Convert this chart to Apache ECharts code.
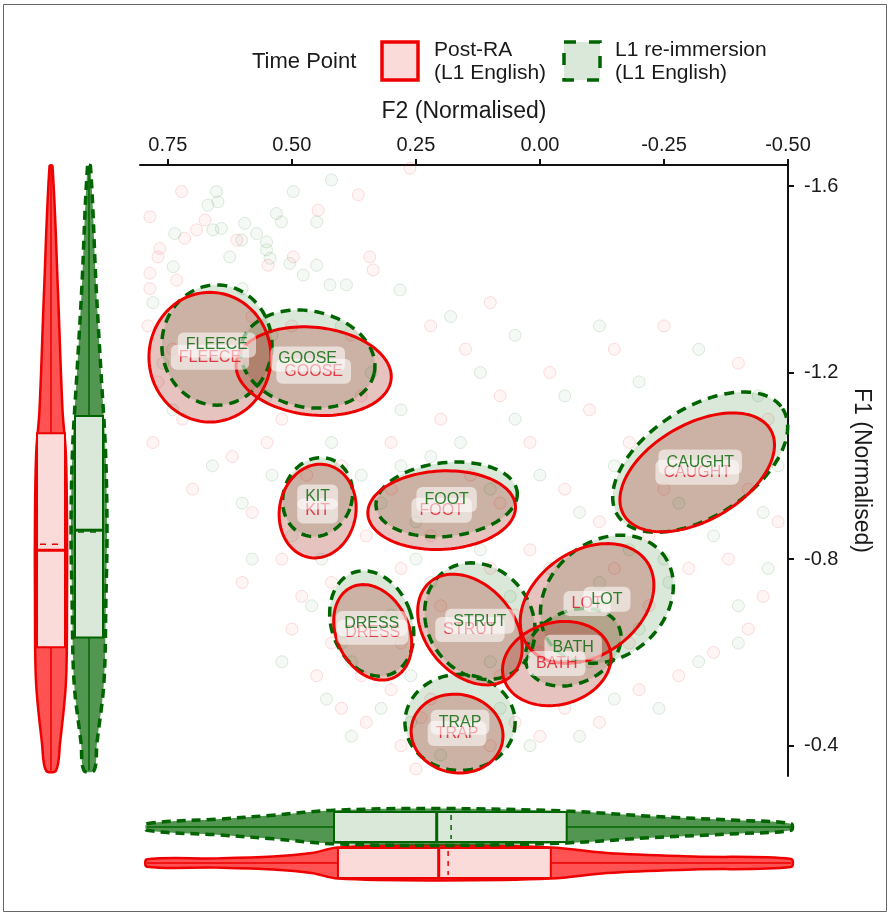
<!DOCTYPE html>
<html><head><meta charset="utf-8">
<script src="https://cdn.jsdelivr.net/npm/echarts@6/dist/echarts.min.js"></script>
<style>html,body{margin:0;padding:0;background:#fff}#c{width:890px;height:916px}</style>
</head><body><div id="c"></div>
<script>
// ---------- data ----------
const vowels = ['FLEECE','GOOSE','KIT','FOOT','CAUGHT','DRESS','STRUT','LOT','BATH','TRAP'];
// means (label positions / ellipse centres)
const postF2 = [0.665,0.456,0.448,0.198,-0.317,0.337,0.141,-0.095,-0.034,0.167];
const postF1 = [-1.233,-1.203,-0.903,-0.905,-0.986,-0.643,-0.649,-0.705,-0.576,-0.426];
const reimF2 = [0.651,0.468,0.448,0.188,-0.323,0.339,0.121,-0.135,-0.067,0.161];
const reimF1 = [-1.259,-1.229,-0.933,-0.928,-1.008,-0.662,-0.667,-0.714,-0.611,-0.450];
// ellipse semi-axes (F2 units, F1 units) and tilt (deg)
const postRadF2 = [0.123,0.157,0.077,0.149,0.171,0.073,0.089,0.147,0.111,0.093];
const postRadF1 = [0.139,0.094,0.101,0.084,0.103,0.107,0.133,0.112,0.088,0.084];
const postAngle = [0,6,10,-3,-30,-25,-40,-35,-15,10];
const reimRadF2 = [0.111,0.137,0.069,0.143,0.198,0.081,0.105,0.145,0.101,0.111];
const reimRadF1 = [0.129,0.103,0.086,0.079,0.116,0.116,0.131,0.124,0.077,0.103];
const reimAngle = [0,12,20,-6,-33,-20,-35,-40,-25,0];
// individual tokens (F2, F1) read from the faint cloud
const postPoints = [[0.722,-1.588],[0.786,-1.534],[0.675,-1.527],[0.692,-1.506],[0.716,-1.488],[0.766,-1.466],[0.770,-1.448],[0.611,-1.484],[0.447,-1.548],[0.366,-1.581],[0.343,-1.448],[0.336,-1.420],[0.497,-1.448],[0.548,-1.430],[0.786,-1.413],[0.732,-1.398],[0.786,-1.380],[0.262,-1.638],
 [0.72,-1.10],[0.78,-1.05],[0.62,-1.02],[0.70,-0.95],[0.58,-0.90],[0.55,-1.05],[0.52,-0.80],[0.48,-0.72],[0.42,-0.75],[0.45,-0.55],[0.40,-0.48],[0.35,-0.45],[0.30,-0.52],[0.28,-0.40],[0.25,-0.35],[0.22,-0.50],[0.10,-0.40],[0.05,-0.45],[0.00,-0.42],[-0.05,-0.48],[-0.12,-0.45],[-0.20,-0.52],[-0.28,-0.55],[-0.35,-0.60],[-0.42,-0.65],[-0.45,-0.72],[-0.38,-0.80],[-0.30,-0.78],[-0.22,-0.85],[-0.12,-0.88],[-0.05,-0.95],[0.02,-1.05],[0.08,-1.15],[0.15,-1.25],[0.22,-1.30],[0.10,-1.35],[-0.02,-1.20],[-0.10,-1.12],[-0.15,-1.25],[-0.25,-1.30],[-0.40,-1.22],[-0.46,-1.10],[0.30,-1.05],[0.20,-1.10],[0.35,-0.85],[0.28,-0.78],[0.10,-0.78],[0.02,-0.82],[0.60,-0.75],[0.50,-0.65],
 [0.79,-1.30],[0.77,-1.18],[0.74,-1.25],[0.58,-1.32],[0.50,-1.30],[0.38,-1.28],[0.36,-1.15],[0.52,-1.10],[0.40,-1.00],[0.47,-0.98],[0.30,-0.95],[0.14,-0.98],[0.08,-0.92],[0.22,-0.85],[0.42,-0.62],[0.36,-0.55],[0.28,-0.62],[0.20,-0.70],[0.05,-0.68],[0.00,-0.60],[-0.08,-0.60],[-0.18,-0.62],[-0.22,-0.70],[-0.15,-0.78],[0.24,-0.46],[0.08,-0.55],[-0.25,-0.95],[-0.18,-1.05],[-0.42,-0.95],[-0.48,-0.88]];
const reimPoints = [[0.652,-1.588],[0.649,-1.566],[0.669,-1.559],[0.497,-1.588],[0.420,-1.613],[0.531,-1.541],[0.521,-1.523],[0.450,-1.523],[0.595,-1.520],[0.571,-1.498],[0.659,-1.506],[0.642,-1.509],[0.736,-1.498],[0.551,-1.480],[0.601,-1.484],[0.551,-1.463],[0.625,-1.448],[0.544,-1.445],[0.504,-1.434],[0.739,-1.427],[0.450,-1.430],[0.477,-1.409],[0.423,-1.388],[0.390,-1.388],[0.282,-1.377],
 [0.74,-1.12],[0.66,-1.00],[0.60,-0.92],[0.54,-0.98],[0.50,-0.85],[0.46,-0.70],[0.40,-0.62],[0.43,-0.50],[0.38,-0.42],[0.32,-0.48],[0.26,-0.45],[0.20,-0.38],[0.08,-0.48],[0.02,-0.40],[-0.08,-0.42],[-0.15,-0.50],[-0.24,-0.48],[-0.32,-0.58],[-0.40,-0.62],[-0.46,-0.78],[-0.35,-0.85],[-0.26,-0.75],[-0.18,-0.82],[-0.08,-0.90],[0.00,-0.98],[0.05,-1.10],[0.12,-1.20],[0.18,-1.32],[0.05,-1.28],[-0.05,-1.15],[-0.12,-1.30],[-0.20,-1.18],[-0.32,-1.25],[-0.44,-1.15],[0.28,-1.12],[0.22,-1.02],[0.32,-0.92],[0.25,-0.80],[0.12,-0.82],[-0.02,-0.78],[0.58,-0.80],[0.52,-0.58],
 [0.78,-1.35],[0.76,-1.22],[0.60,-1.38],[0.54,-1.28],[0.40,-1.30],[0.34,-1.20],[0.55,-1.15],[0.42,-1.05],[0.36,-0.98],[0.28,-1.00],[0.16,-1.05],[0.10,-0.95],[0.25,-0.88],[0.44,-0.80],[0.38,-0.58],[0.30,-0.68],[0.22,-0.75],[0.06,-0.72],[0.02,-0.62],[-0.10,-0.58],[-0.20,-0.65],[-0.25,-0.80],[-0.12,-0.75],[0.26,-0.55],[0.10,-0.58],[-0.28,-0.92],[-0.15,-1.00],[-0.45,-0.90],[-0.48,-1.00],[-0.40,-0.70]];
// marginal densities [value, relative density]
const postF1Density = [[-1.643,0.08],[-1.381,0.38],[-1.119,0.64],[-1.029,0.82],[-0.888,0.89],[-0.712,0.89],[-0.536,0.83],[-0.405,0.5],[-0.347,0.28]];
const reimF1Density = [[-1.643,0.08],[-1.381,0.40],[-1.205,0.66],[-1.029,0.92],[-0.862,1.0],[-0.712,0.94],[-0.536,0.83],[-0.405,0.44],[-0.347,0.28]];
const postF2Density = [[0.792,0.2],[0.651,0.25],[0.538,0.35],[0.460,0.54],[0.407,0.84],[0.202,0.94],[-0.022,0.84],[-0.135,0.54],[-0.310,0.35],[-0.506,0.22]];
const reimF2Density = [[0.792,0.18],[0.651,0.42],[0.538,0.64],[0.415,0.91],[0.202,1.0],[-0.054,0.86],[-0.222,0.58],[-0.397,0.36],[-0.506,0.18]];
// box stats [min, q1, median, q3, max, mean]
const postF1Stats = [-1.643,-1.070,-0.819,-0.611,-0.347,-0.832];
const reimF1Stats = [-1.643,-1.107,-0.862,-0.632,-0.347,-0.858];
const postF2Stats = [-0.506,-0.022,0.204,0.407,0.792,0.185];
const reimF2Stats = [-0.506,-0.054,0.208,0.415,0.792,0.179];
const groups = ['Post-RA','L1 re-immersion'];
const xTicks = [0.75,0.5,0.25,0,-0.25,-0.5];
const yTicks = [-1.6,-1.2,-0.8,-0.4];

// ---------- style ----------
const RED = '#ee0000', GREEN = '#006400';
const FONT = '"Liberation Sans", Arial, Helvetica, sans-serif';
const VHW = 18, VBOX = 14, HHW = 18.5, HBOX = 15;

function ellipseRender(fill, stroke, dash, width) {
  return function(params, api) {
    const cx = api.value(0), cy = api.value(1);
    const c = api.coord([cx, cy]);
    const s = api.size([api.value(2), api.value(3)], [cx, cy]);
    const a = Math.abs(s[0]), b = Math.abs(s[1]);
    const th = api.value(4) * Math.PI / 180;
    const pts = [];
    for (let k = 0; k < 120; k++) {
      const t = k / 120 * 2 * Math.PI;
      const x = a * Math.cos(t), y = b * Math.sin(t);
      pts.push([c[0] + x * Math.cos(th) - y * Math.sin(th), c[1] + x * Math.sin(th) + y * Math.cos(th)]);
    }
    return {type: 'polygon', shape: {points: pts},
      style: {fill: fill, stroke: stroke, lineWidth: width, lineDash: dash}};
  };
}
const postEll = vowels.map((v, i) => [postF2[i], postF1[i], postRadF2[i], postRadF1[i], postAngle[i]]);
const reimEll = vowels.map((v, i) => [reimF2[i], reimF1[i], reimRadF2[i], reimRadF1[i], reimAngle[i]]);

function vViolin(params, api) {
  const g = params.dataIndex;
  const dens = g === 0 ? postF1Density : reimF1Density;
  const st = g === 0 ? postF1Stats : reimF1Stats;
  const col = g === 0 ? RED : GREEN;
  const cx = api.coord([g, st[2]])[0];
  const Y = v => api.coord([g, v])[1];
  const L = [], R = [];
  dens.forEach(d => { L.push([cx - d[1] * VHW, Y(d[0])]); R.push([cx + d[1] * VHW, Y(d[0])]); });
  const poly = L.concat(R.reverse());
  const yq1 = Y(st[1]), yq3 = Y(st[3]);
  return {type: 'group', children: [
    {type: 'polygon', shape: {points: poly, smooth: 0.35},
      style: {fill: g === 0 ? 'rgba(255,0,0,0.68)' : 'rgba(0,100,0,0.68)', stroke: col, lineWidth: g === 0 ? 2.5 : 3.5, lineDash: g === 0 ? null : [9, 6]}},
    {type: 'line', shape: {x1: cx, y1: Y(st[0]), x2: cx, y2: Y(st[4])}, style: {stroke: col, lineWidth: 1.5}},
    {type: 'rect', shape: {x: cx - VBOX, y: Math.min(yq1, yq3), width: 2 * VBOX, height: Math.abs(yq3 - yq1)},
      style: {fill: g === 0 ? '#fbdada' : '#d9e8d9', stroke: col, lineWidth: 2}},
    {type: 'line', shape: {x1: cx - VBOX, y1: Y(st[2]), x2: cx + VBOX, y2: Y(st[2])}, style: {stroke: col, lineWidth: 3}},
    {type: 'line', shape: {x1: cx - VBOX + 3, y1: Y(st[5]), x2: cx + VBOX - 3, y2: Y(st[5])}, style: {stroke: col, lineWidth: 1.5, lineDash: [6, 6]}}
  ]};
}
function hViolin(params, api) {
  const g = params.dataIndex;
  const dens = g === 0 ? postF2Density : reimF2Density;
  const st = g === 0 ? postF2Stats : reimF2Stats;
  const col = g === 0 ? RED : GREEN;
  const cy = api.coord([st[2], g])[1];
  const X = v => api.coord([v, g])[0];
  const T = [], B = [];
  dens.forEach(d => { T.push([X(d[0]), cy - d[1] * HHW]); B.push([X(d[0]), cy + d[1] * HHW]); });
  const poly = T.concat(B.reverse());
  const x1 = X(st[1]), x3 = X(st[3]);
  return {type: 'group', children: [
    {type: 'polygon', shape: {points: poly, smooth: 0.35},
      style: {fill: g === 0 ? 'rgba(255,0,0,0.68)' : 'rgba(0,100,0,0.68)', stroke: col, lineWidth: g === 0 ? 2.5 : 3.5, lineDash: g === 0 ? null : [9, 6]}},
    {type: 'line', shape: {x1: X(st[0]), y1: cy, x2: X(st[4]), y2: cy}, style: {stroke: col, lineWidth: 1.5}},
    {type: 'rect', shape: {x: Math.min(x1, x3), y: cy - HBOX, width: Math.abs(x3 - x1), height: 2 * HBOX},
      style: {fill: g === 0 ? '#fbdada' : '#d9e8d9', stroke: col, lineWidth: 2}},
    {type: 'line', shape: {x1: X(st[2]), y1: cy - HBOX, x2: X(st[2]), y2: cy + HBOX}, style: {stroke: col, lineWidth: 3}},
    {type: 'line', shape: {x1: X(st[5]), y1: cy - HBOX + 3, x2: X(st[5]), y2: cy + HBOX - 3}, style: {stroke: col, lineWidth: 1.5, lineDash: [5, 5]}}
  ]};
}

function labelSeries(F2, F1, color) {
  return {type: 'scatter', xAxisIndex: 0, yAxisIndex: 0, silent: true, symbolSize: 2,
    itemStyle: {color: 'rgba(0,0,0,0)'},
    data: vowels.map((v, i) => [F2[i], F1[i], v]),
    label: {show: true, position: 'inside', formatter: p => p.data[2], color: color,
      fontFamily: FONT, fontSize: 16, backgroundColor: 'rgba(255,255,255,0.7)',
      padding: [5, 8, 4, 8], borderRadius: 6}};
}

const chart = echarts.init(document.getElementById('c'), null, {renderer: 'canvas'});
const axisTxt = {color: '#1a1a1a', fontFamily: FONT, fontSize: 20};
chart.setOption({
  animation: false,
  backgroundColor: '#fff',
  grid: [
    {left: 140, top: 165, width: 648, height: 611},
    {left: 32, top: 165, width: 76, height: 611},
    {left: 140, top: 809, width: 648, height: 72}
  ],
  xAxis: [
    {gridIndex: 0, type: 'value', position: 'top', inverse: true, min: -0.5, max: 0.806,
      name: 'F2 (Normalised)', nameLocation: 'middle', nameGap: 42,
      nameTextStyle: {color: '#1a1a1a', fontFamily: FONT, fontSize: 23},
      axisLine: {show: true, onZero: false, lineStyle: {color: '#111', width: 2}},
      axisTick: {show: true, length: 6, customValues: xTicks, lineStyle: {color: '#111', width: 2}},
      axisLabel: Object.assign({customValues: xTicks, margin: 10, formatter: v => v.toFixed(2)}, axisTxt),
      splitLine: {show: false}},
    {gridIndex: 1, type: 'category', data: groups, show: false},
    {gridIndex: 2, type: 'value', inverse: true, min: -0.5, max: 0.806, show: false, splitLine: {show: false}}
  ],
  yAxis: [
    {gridIndex: 0, type: 'value', position: 'right', inverse: true, min: -1.645, max: -0.335,
      name: 'F1 (Normalised)', nameLocation: 'middle', nameGap: 50, nameRotate: -90,
      nameTextStyle: {color: '#1a1a1a', fontFamily: FONT, fontSize: 23},
      axisLine: {show: true, onZero: false, lineStyle: {color: '#111', width: 2}},
      axisTick: {show: true, length: 6, customValues: yTicks, lineStyle: {color: '#111', width: 2}},
      axisLabel: Object.assign({customValues: yTicks, margin: 16, formatter: v => v.toFixed(1)}, axisTxt),
      splitLine: {show: false}},
    {gridIndex: 1, type: 'value', inverse: true, min: -1.645, max: -0.335, show: false, splitLine: {show: false}},
    {gridIndex: 2, type: 'category', data: groups, show: false}
  ],
  graphic: [
    {type: 'rect', shape: {x: 3.5, y: 4.5, width: 883, height: 907}, style: {fill: 'none', stroke: '#666', lineWidth: 1}, silent: true},
    {type: 'text', style: {x: 252, y: 62, text: 'Time Point', font: '22px ' + FONT, fill: '#1a1a1a', align: 'left', verticalAlign: 'middle'}},
    {type: 'rect', shape: {x: 382, y: 42, width: 36, height: 38}, style: {fill: '#fbdada', stroke: RED, lineWidth: 3.5}},
    {type: 'text', style: {x: 434, y: 50, text: 'Post-RA', font: '21px ' + FONT, fill: '#1a1a1a', align: 'left', verticalAlign: 'middle'}},
    {type: 'text', style: {x: 434, y: 73, text: '(L1 English)', font: '21px ' + FONT, fill: '#1a1a1a', align: 'left', verticalAlign: 'middle'}},
    {type: 'rect', shape: {x: 564, y: 42, width: 36, height: 38}, style: {fill: '#d9e8d9', stroke: GREEN, lineWidth: 3.5, lineDash: [12, 13]}},
    {type: 'text', style: {x: 615, y: 50, text: 'L1 re-immersion', font: '21px ' + FONT, fill: '#1a1a1a', align: 'left', verticalAlign: 'middle'}},
    {type: 'text', style: {x: 615, y: 73, text: '(L1 English)', font: '21px ' + FONT, fill: '#1a1a1a', align: 'left', verticalAlign: 'middle'}}
  ],
  series: [
    {type: 'scatter', xAxisIndex: 0, yAxisIndex: 0, silent: true, symbolSize: 12, data: postPoints,
      itemStyle: {color: 'rgba(255,0,0,0.05)', borderColor: 'rgba(225,0,0,0.16)', borderWidth: 1}},
    {type: 'scatter', xAxisIndex: 0, yAxisIndex: 0, silent: true, symbolSize: 12, data: reimPoints,
      itemStyle: {color: 'rgba(0,100,0,0.05)', borderColor: 'rgba(0,100,0,0.16)', borderWidth: 1}},
    {type: 'custom', xAxisIndex: 0, yAxisIndex: 0, silent: true, data: reimEll, encode: {x: 0, y: 1},
      renderItem: ellipseRender('rgba(0,100,0,0.15)', 'none', null, 0)},
    {type: 'custom', xAxisIndex: 0, yAxisIndex: 0, silent: true, data: postEll, encode: {x: 0, y: 1},
      renderItem: ellipseRender('rgba(170,40,30,0.28)', 'none', null, 0)},
    {type: 'custom', xAxisIndex: 0, yAxisIndex: 0, silent: true, data: reimEll, encode: {x: 0, y: 1},
      renderItem: ellipseRender('none', GREEN, [10, 7], 3.5)},
    {type: 'custom', xAxisIndex: 0, yAxisIndex: 0, silent: true, data: postEll, encode: {x: 0, y: 1},
      renderItem: ellipseRender('none', RED, null, 3)},
    labelSeries(postF2, postF1, '#e01020'),
    labelSeries(reimF2, reimF1, GREEN),
    {type: 'custom', xAxisIndex: 1, yAxisIndex: 1, silent: true, data: [[0, -1.0], [1, -1.0]], encode: {x: 0, y: 1},
      renderItem: vViolin},
    {type: 'custom', xAxisIndex: 2, yAxisIndex: 2, silent: true, data: [[0.2, 0], [0.2, 1]], encode: {x: 0, y: 1},
      renderItem: hViolin}
  ]
});
</script></body></html>
